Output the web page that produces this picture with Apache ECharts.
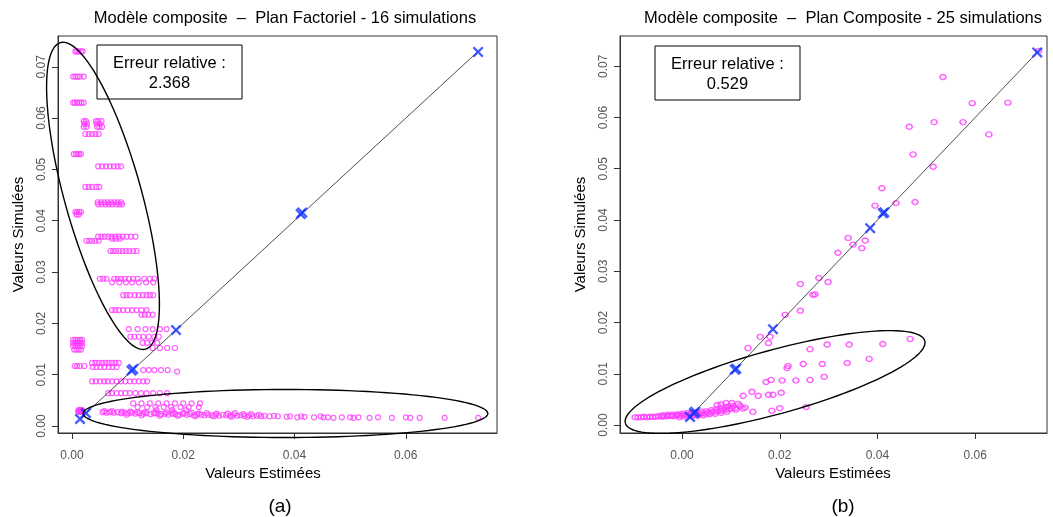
<!DOCTYPE html>
<html>
<head>
<meta charset="utf-8">
<script src="https://cdn.jsdelivr.net/npm/echarts@6/dist/echarts.min.js"></script>
<style>
  html, body { margin: 0; padding: 0; background: #fff; }
  #chart { width: 1053px; height: 517px; }
</style>
</head>
<body>
<div id="chart"></div>
<script>
// tick values shared by both panels
var tickValues = [0, 0.01, 0.02, 0.03, 0.04, 0.05, 0.06, 0.07];
var xTickValues = [0, 0.02, 0.04, 0.06];

// (a) plan factoriel : rows of points [y, [x...]]
var factRows = [
  [0.0730, [0.0006, 0.0009, 0.0012, 0.0016, 0.0019]],
  [0.0681, [0.0002, 0.0006, 0.0010, 0.0014, 0.0021]],
  [0.0630, [0.0002, 0.0005, 0.0009, 0.0013, 0.0017, 0.0021]],
  [0.0594, [0.0021, 0.0025, 0.0043, 0.0047, 0.0053]],
  [0.0589, [0.0022, 0.0027, 0.0044, 0.0050]],
  [0.0583, [0.0021, 0.0026, 0.0045, 0.0049, 0.0054]],
  [0.0569, [0.0024, 0.0030, 0.0036, 0.0042, 0.0048]],
  [0.0530, [0.0003, 0.0007, 0.0010, 0.0013, 0.0016]],
  [0.0506, [0.0047, 0.0054, 0.0061, 0.0068, 0.0075, 0.0082, 0.0088]],
  [0.0466, [0.0024, 0.0030, 0.0036, 0.0044, 0.0049]],
  [0.0436, [0.0046, 0.0052, 0.0058, 0.0064, 0.0070, 0.0076, 0.0082, 0.0088]],
  [0.0432, [0.0047, 0.0053, 0.0060, 0.0066, 0.0072, 0.0079, 0.0085, 0.0090]],
  [0.0417, [0.0006, 0.0009, 0.0013, 0.0016]],
  [0.0412, [0.0008, 0.0012]],
  [0.0369, [0.0047, 0.0053, 0.0059, 0.0065, 0.0071, 0.0078, 0.0084, 0.0091, 0.0098, 0.0106, 0.0114]],
  [0.0365, [0.0072, 0.0078, 0.0086]],
  [0.0361, [0.0026, 0.0031, 0.0036, 0.0042, 0.0048]],
  [0.0341, [0.0069, 0.0074, 0.0079, 0.0085, 0.0091, 0.0097, 0.0103, 0.0110, 0.0116]],
  [0.0287, [0.0050, 0.0056, 0.0062, 0.0076, 0.0082, 0.0088, 0.0095, 0.0102, 0.0110, 0.0118, 0.0130, 0.0140, 0.0148]],
  [0.0280, [0.0072, 0.0085, 0.0097, 0.0108, 0.0120, 0.0133, 0.0146]],
  [0.0255, [0.0092, 0.0098, 0.0104, 0.0113, 0.0120, 0.0127, 0.0134, 0.0140, 0.0146]],
  [0.0226, [0.0072, 0.0078, 0.0084, 0.0092, 0.0100, 0.0108, 0.0116, 0.0125, 0.0134]],
  [0.0217, [0.0125, 0.0131, 0.0137, 0.0145]],
  [0.0189, [0.0102, 0.0118, 0.0132, 0.0145, 0.0158, 0.0170]],
  [0.0174, [0.0105, 0.0112, 0.0120, 0.0128, 0.0138, 0.0148, 0.0156]],
  [0.0168, [0.0002, 0.0006, 0.0010, 0.0014, 0.0018]],
  [0.0162, [0.0002, 0.0006, 0.0010, 0.0014, 0.0018, 0.0127, 0.0135, 0.0144, 0.0153]],
  [0.0156, [0.0002, 0.0006, 0.0010, 0.0014, 0.0018]],
  [0.0152, [0.0145, 0.0158, 0.0171, 0.0185]],
  [0.0149, [0.0004, 0.0008, 0.0012, 0.0016]],
  [0.0123, [0.0036, 0.0042, 0.0048, 0.0054, 0.0060, 0.0066, 0.0072, 0.0078, 0.0084]],
  [0.0117, [0.0005, 0.0009, 0.0014, 0.0022]],
  [0.0115, [0.0037, 0.0044, 0.0051, 0.0058, 0.0066, 0.0073, 0.0080]],
  [0.0109, [0.0128, 0.0138, 0.0148, 0.0160, 0.0172]],
  [0.0106, [0.0189]],
  [0.0087, [0.0036, 0.0043, 0.0050, 0.0058, 0.0064, 0.0072, 0.0080, 0.0088, 0.0096, 0.0104, 0.0112, 0.0120, 0.0128, 0.0135]],
  [0.0064, [0.0065, 0.0072, 0.0080, 0.0088, 0.0096, 0.0104, 0.0114, 0.0124, 0.0134, 0.0146, 0.0158, 0.0171]],
  [0.0044, [0.0110, 0.0125, 0.0140, 0.0155, 0.0170, 0.0185, 0.0200, 0.0215, 0.0230]],
  [0.0037, [0.0118, 0.0135, 0.0150, 0.0165, 0.0178, 0.0195, 0.0210, 0.0228]],
  [0.0031, [0.0012, 0.0014, 0.0016, 0.0018, 0.0152, 0.0180, 0.0205]],
  [0.0028, [0.0011, 0.0013, 0.0015, 0.0017, 0.0019]]
];

// (a) bande du bas : [x, y]
var factBand = [
  [0.0055,0.0027],[0.0062,0.0026],[0.0068,0.0027],[0.0075,0.0026],[0.0082,0.0027],[0.0088,0.0025],
  [0.0095,0.0026],[0.0101,0.0025],[0.0108,0.0026],[0.0114,0.0024],[0.0121,0.0025],[0.0128,0.0024],
  [0.0134,0.0025],[0.0141,0.0023],[0.0147,0.0025],[0.0154,0.0024],[0.0160,0.0023],[0.0167,0.0024],
  [0.0173,0.0022],[0.0180,0.0024],[0.0186,0.0023],[0.0193,0.0022],[0.0199,0.0024],[0.0206,0.0022],
  [0.0212,0.0023],[0.0219,0.0021],[0.0225,0.0023],[0.0232,0.0022],[0.0238,0.0021],[0.0245,0.0022],
  [0.0251,0.0021],[0.0258,0.0022],[0.0264,0.0020],[0.0271,0.0022],[0.0277,0.0021],[0.0284,0.0020],
  [0.0290,0.0022],[0.0297,0.0020],[0.0303,0.0021],[0.0310,0.0020],[0.0318,0.0021],[0.0325,0.0019],
  [0.0332,0.0020],[0.0340,0.0019],[0.0346,0.0020],[0.0355,0.0019],[0.0363,0.0020],[0.0370,0.0019],
  [0.0058,0.0029],[0.0072,0.0029],[0.0090,0.0028],[0.0105,0.0028],[0.0118,0.0027],[0.0131,0.0027],
  [0.0150,0.0026],[0.0170,0.0026],[0.0183,0.0026],[0.0202,0.0025],[0.0215,0.0026],[0.0228,0.0024],
  [0.0242,0.0025],[0.0260,0.0024],[0.0280,0.0024],[0.0293,0.0025],[0.0308,0.0023],[0.0322,0.0023],
  [0.0336,0.0022],[0.0098,0.0022],[0.0125,0.0021],[0.0158,0.0020],[0.0190,0.0020],[0.0222,0.0019],
  [0.0255,0.0019],[0.0287,0.0018],[0.0315,0.0018],
  [0.0386,0.0018],[0.0392,0.0019],[0.0405,0.0017],[0.0412,0.0019],[0.0418,0.0018],[0.0435,0.0017],
  [0.0447,0.0019],[0.0452,0.0017],[0.0460,0.0017],[0.0470,0.0016],[0.0485,0.0017],[0.0500,0.0017],
  [0.0506,0.0016],[0.0515,0.0017],[0.0535,0.0016],[0.0550,0.0017],[0.0575,0.0016],[0.0600,0.0017],
  [0.0608,0.0016],[0.0625,0.0016],[0.0670,0.0016],[0.0730,0.0016]
];

// (b) plan composite : [x, y]
var compPoints = [
  [-0.0096,0.0015],[-0.0090,0.0015],[-0.0084,0.0015],[-0.0078,0.0016],[-0.0072,0.0015],[-0.0066,0.0016],
  [-0.0060,0.0016],[-0.0054,0.0016],[-0.0048,0.0017],[-0.0042,0.0016],[-0.0036,0.0017],[-0.0030,0.0017],
  [-0.0024,0.0018],[-0.0018,0.0017],[-0.0012,0.0018],[-0.0006,0.0019],[0.0000,0.0018],[0.0006,0.0020],
  [0.0012,0.0019],[0.0018,0.0021],[0.0024,0.0020],[0.0030,0.0022],[0.0036,0.0021],[0.0042,0.0023],
  [0.0048,0.0022],[0.0054,0.0024],[0.0060,0.0025],[0.0066,0.0026],[0.0072,0.0027],[0.0078,0.0028],
  [0.0084,0.0029],[0.0090,0.0030],[0.0096,0.0031],[0.0102,0.0032],[0.0108,0.0033],
  [-0.0040,0.0019],[-0.0030,0.0020],[-0.0020,0.0020],[-0.0010,0.0021],[0.0000,0.0022],[0.0010,0.0023],
  [0.0020,0.0024],[0.0030,0.0025],[0.0040,0.0026],[0.0050,0.0027],[0.0060,0.0029],[0.0070,0.0031],
  [0.0080,0.0033],[0.0090,0.0035],[-0.0005,0.0015],[0.0008,0.0016],[0.0020,0.0017],[0.0032,0.0018],
  [0.0044,0.0019],[0.0056,0.0021],[0.0068,0.0022],[0.0080,0.0024],[0.0092,0.0026],
  [0.0072,0.0039],[0.0080,0.0040],[0.0090,0.0043],[0.0095,0.0036],[0.0102,0.0043],[0.0104,0.0037],
  [0.0110,0.0030],[0.0119,0.0037],[0.0124,0.0032],[0.0129,0.0034],[0.0115,0.0041],
  [0.0145,0.0026],[0.0184,0.0028],[0.0200,0.0033],[0.0254,0.0035],[0.0125,0.0057],[0.0143,0.0065],
  [0.0156,0.0057],[0.0177,0.0059],[0.0186,0.0059],[0.0203,0.0063],[0.0172,0.0084],[0.0182,0.0088],
  [0.0205,0.0087],[0.0233,0.0087],[0.0262,0.0088],[0.0291,0.0094],[0.0215,0.0111],[0.0217,0.0115],
  [0.0248,0.0119],[0.0287,0.0119],[0.0338,0.0121],[0.0383,0.0129],[0.0262,0.0148],[0.0297,0.0157],
  [0.0342,0.0157],[0.0411,0.0158],[0.0467,0.0168],[0.0135,0.0150],[0.0177,0.0160],[0.0160,0.0172],
  [0.0180,0.0172],[0.0211,0.0215],[0.0242,0.0223],[0.0268,0.0254],[0.0272,0.0255],[0.0242,0.0275],
  [0.0280,0.0287],[0.0299,0.0279],[0.0319,0.0336],[0.0340,0.0365],[0.0350,0.0352],[0.0368,0.0345],
  [0.0375,0.0360],[0.0395,0.0428],[0.0438,0.0433],[0.0477,0.0435],[0.0409,0.0462],[0.0514,0.0504],
  [0.0473,0.0528],[0.0465,0.0582],[0.0516,0.0591],[0.0575,0.0591],[0.0628,0.0567],[0.0594,0.0628],
  [0.0667,0.0629],[0.0534,0.0679],[0.0730,0.0730]
];

// points du plan d'expériences (croix bleues)
var factDesign = [[0.00144,0.00137],[0.0025,0.0025],[0.0107,0.0108],[0.0110,0.0111],[0.0187,0.0187],[0.0411,0.0413],[0.0414,0.0416],[0.0730,0.0729]];
var compDesign = [[0.00164,0.00156],[0.0024,0.0023],[0.0027,0.0026],[0.0108,0.0108],[0.0111,0.0110],[0.0186,0.0187],[0.0385,0.0384],[0.0411,0.0413],[0.0414,0.0415],[0.0727,0.0727]];
var diagonal = [[0.0015,0.0015],[0.073,0.073]];

// ellipses : centre, extrémité grand axe, extrémité petit axe
var factEllipses = [
  [0.00557, 0.04485, -0.00207, 0.07472, 0.01224, 0.04686],
  [0.03837, 0.00244, 0.07475, 0.00244, 0.03837, 0.00712]
];
var compEllipses = [
  [0.01904, 0.00839, 0.04968, 0.01642, 0.02078, 0.00238]
];

var errors = ['2.368', '0.529'];
var titles = ['Modèle composite  –  Plan Factoriel - 16 simulations', 'Modèle composite  –  Plan Composite - 25 simulations'];

var factPoints = [];
factRows.forEach(function (r) {
  r[1].forEach(function (x) { factPoints.push([x, r[0]]); });
});
factPoints = factPoints.concat(factBand);

var FONT = '"Liberation Sans", Arial, sans-serif';
var MAGENTA = '#ff3cff';
var BLUE = '#1536ff';
var CROSS = 'path://M0,1.5L1.5,0L5,3.5L8.5,0L10,1.5L6.5,5L10,8.5L8.5,10L5,6.5L1.5,10L0,8.5L3.5,5Z';

function xAxis(idx, min, max) {
  return {
    type: 'value', gridIndex: idx, min: min, max: max,
    axisLine: { show: true, onZero: false, lineStyle: { color: '#333' } },
    axisTick: { show: true, customValues: xTickValues, length: 6, lineStyle: { color: '#333' } },
    axisLabel: { customValues: xTickValues, margin: 17, fontSize: 12, color: '#555', fontFamily: FONT,
      formatter: function (v) { return v.toFixed(2); } },
    splitLine: { show: false }
  };
}
function yAxis(idx, min, max) {
  return {
    type: 'value', gridIndex: idx, min: min, max: max,
    name: 'Valeurs Simulées', nameLocation: 'middle', nameGap: 32,
    nameTextStyle: { fontSize: 15, color: '#000', fontFamily: FONT },
    axisLine: { show: true, onZero: false, lineStyle: { color: '#333' } },
    axisTick: { show: true, customValues: tickValues, length: 6, lineStyle: { color: '#333' } },
    axisLabel: { customValues: tickValues, rotate: 90, margin: 10, fontSize: 12, color: '#555', fontFamily: FONT,
      formatter: function (v) { return v.toFixed(2); } },
    splitLine: { show: false }
  };
}

function renderEllipse(params, api) {
  var c = api.coord([api.value(0), api.value(1)]);
  var m = api.coord([api.value(2), api.value(3)]);
  var n = api.coord([api.value(4), api.value(5)]);
  var u = [m[0] - c[0], m[1] - c[1]], v = [n[0] - c[0], n[1] - c[1]];
  var pts = [];
  for (var k = 0; k < 120; k++) {
    var t = k / 120 * Math.PI * 2;
    pts.push([c[0] + Math.cos(t) * u[0] + Math.sin(t) * v[0], c[1] + Math.cos(t) * u[1] + Math.sin(t) * v[1]]);
  }
  return { type: 'polygon', shape: { points: pts }, style: { fill: 'none', stroke: '#000', lineWidth: 1.4 } };
}

function panelSeries(idx, points, design, ellipses) {
  return [
    { type: 'scatter', xAxisIndex: idx, yAxisIndex: idx, data: points, symbol: 'circle', symbolSize: idx ? [6, 5] : 5,
      itemStyle: { color: 'transparent', borderColor: MAGENTA, borderWidth: idx ? 1.5 : 1.2 }, silent: true, z: 2 },
    { type: 'line', xAxisIndex: idx, yAxisIndex: idx, data: diagonal, symbol: 'none',
      lineStyle: { color: '#222', width: 0.8 }, silent: true, z: 3 },
    { type: 'scatter', xAxisIndex: idx, yAxisIndex: idx, data: design, symbol: CROSS, symbolSize: 11,
      itemStyle: { color: BLUE }, silent: true, z: 4 },
    { type: 'custom', xAxisIndex: idx, yAxisIndex: idx, data: ellipses, renderItem: renderEllipse,
      clip: false, silent: true, z: 5 }
  ];
}

function errorBox(x, y, value) {
  return {
    type: 'group', x: x, y: y, children: [
      { type: 'rect', shape: { x: 0, y: 0, width: 145, height: 54 }, style: { fill: '#fff', stroke: '#000', lineWidth: 1 } },
      { type: 'text', x: 72.5, y: 18, style: { text: 'Erreur relative :', font: '16.5px ' + FONT, fill: '#000', align: 'center', verticalAlign: 'middle' } },
      { type: 'text', x: 72.5, y: 38, style: { text: value, font: '16.5px ' + FONT, fill: '#000', align: 'center', verticalAlign: 'middle' } }
    ]
  };
}

function label(x, y, text, size) {
  return { type: 'text', x: x, y: y, style: { text: text, font: size + 'px ' + FONT, fill: '#000', align: 'center', verticalAlign: 'middle' } };
}

var chart = echarts.init(document.getElementById('chart'));
chart.setOption({
  animation: false,
  backgroundColor: '#fff',
  grid: [
    { left: 58, top: 36, width: 439, height: 397, show: true, borderColor: '#333', borderWidth: 1 },
    { left: 620, top: 36, width: 427, height: 397, show: true, borderColor: '#333', borderWidth: 1 }
  ],
  xAxis: [xAxis(0, -0.00252, 0.0764), xAxis(1, -0.0127, 0.0747)],
  yAxis: [yAxis(0, -0.00136, 0.0760), yAxis(1, -0.00156, 0.0759)],
  series: panelSeries(0, factPoints, factDesign, factEllipses).concat(panelSeries(1, compPoints, compDesign, compEllipses)),
  graphic: [
    label(285, 18, titles[0], 16.5),
    label(843, 18, titles[1], 16.5),
    label(263, 474, 'Valeurs Estimées', 15),
    label(833, 474, 'Valeurs Estimées', 15),
    label(280, 507, '(a)', 19),
    label(843, 507, '(b)', 19),
    errorBox(97, 45, errors[0]),
    errorBox(655, 46, errors[1])
  ]
});
</script>
</body>
</html>
